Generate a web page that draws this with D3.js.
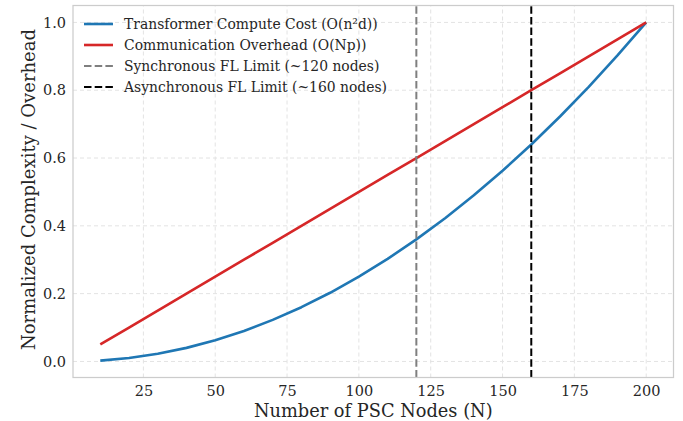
<!DOCTYPE html>
<html>
<head>
<meta charset="utf-8">
<script src="https://cdn.jsdelivr.net/npm/d3@7"></script>
<style>
  body { margin: 0; background: #fff; }
  text { font-family: "DejaVu Serif", serif; fill: #262626; }
</style>
</head>
<body>
<svg id="chart" width="683" height="421"></svg>
<script>
// data
var nodes = [10, 20, 30, 40, 50, 60, 70, 80, 90, 100, 110, 120, 130, 140, 150, 160, 170, 180, 190, 200];
var computeCost = [0.0025, 0.01, 0.0225, 0.04, 0.0625, 0.09, 0.1225, 0.16, 0.2025, 0.25,
                   0.3025, 0.36, 0.4225, 0.49, 0.5625, 0.64, 0.7225, 0.81, 0.9025, 1.0];
var commOverhead = [0.05, 0.1, 0.15, 0.2, 0.25, 0.3, 0.35, 0.4, 0.45, 0.5,
                    0.55, 0.6, 0.65, 0.7, 0.75, 0.8, 0.85, 0.9, 0.95, 1.0];
var limits = [
  { x: 120, label: "Synchronous FL Limit (~120 nodes)", color: "#7f7f7f" },
  { x: 160, label: "Asynchronous FL Limit (~160 nodes)", color: "#000000" }
];
var xTicks = [25, 50, 75, 100, 125, 150, 175, 200];
var yTicks = [0.0, 0.2, 0.4, 0.6, 0.8, 1.0];

var margin = { left: 73, right: 9.5, top: 5.5, bottom: 43.5 };
var W = 683, H = 421;
var svg = d3.select("#chart");

var x = d3.scaleLinear().domain([0.5, 209.5]).range([margin.left, W - margin.right]);
var y = d3.scaleLinear().domain([-0.047375, 1.049875]).range([H - margin.bottom, margin.top]);

//////////////////////////////////
// grid
var grid = svg.append("g").attr("class", "grid");
grid.selectAll("line.gx").data(xTicks).enter().append("line")
  .attr("x1", function(d) { return x(d); }).attr("x2", function(d) { return x(d); })
  .attr("y1", y.range()[0]).attr("y2", y.range()[1])
  .attr("stroke", "#e3e3e3").attr("stroke-width", 1).attr("stroke-dasharray", "4,3");
grid.selectAll("line.gy").data(yTicks).enter().append("line")
  .attr("y1", function(d) { return y(d); }).attr("y2", function(d) { return y(d); })
  .attr("x1", x.range()[0]).attr("x2", x.range()[1])
  .attr("stroke", "#e3e3e3").attr("stroke-width", 1).attr("stroke-dasharray", "4,3");

//////////////////////////////////
// axes (labels only, no tick marks)
var xAxis = svg.append("g")
  .attr("transform", "translate(0," + (H - margin.bottom) + ")")
  .call(d3.axisBottom(x).tickValues(xTicks).tickSize(0).tickPadding(8).tickFormat(d3.format("d")));
var yAxis = svg.append("g")
  .attr("transform", "translate(" + margin.left + ",0)")
  .call(d3.axisLeft(y).tickValues(yTicks).tickSize(0).tickPadding(7).tickFormat(d3.format(".1f")));
[xAxis, yAxis].forEach(function(a) {
  a.select(".domain").remove();
  a.selectAll("text").style("font-family", "DejaVu Serif").style("font-size", "14.5px").attr("fill", "#262626");
});

//////////////////////////////////
// series
var line = d3.line()
  .x(function(d) { return x(d[0]); })
  .y(function(d) { return y(d[1]); });

svg.append("path")
  .datum(d3.zip(nodes, computeCost))
  .attr("d", line)
  .attr("fill", "none").attr("stroke", "#1f77b4").attr("stroke-width", 2.6)
  .attr("stroke-linejoin", "round");
svg.append("path")
  .datum(d3.zip(nodes, commOverhead))
  .attr("d", line)
  .attr("fill", "none").attr("stroke", "#d62728").attr("stroke-width", 2.6)
  .attr("stroke-linejoin", "round");

svg.selectAll("line.limit").data(limits).enter().append("line")
  .attr("class", "limit")
  .attr("x1", function(d) { return x(d.x); }).attr("x2", function(d) { return x(d.x); })
  .attr("y1", y.range()[0]).attr("y2", y.range()[1])
  .attr("stroke", function(d) { return d.color; })
  .attr("stroke-width", 2).attr("stroke-dasharray", "7.5,3.2");

//////////////////////////////////
// frame
svg.append("rect")
  .attr("x", margin.left).attr("y", margin.top)
  .attr("width", W - margin.left - margin.right).attr("height", H - margin.top - margin.bottom)
  .attr("fill", "none").attr("stroke", "#cccccc").attr("stroke-width", 1.25);

//////////////////////////////////
// legend
var legendItems = [
  { label: "Transformer Compute Cost (O(n\u00b2d))", color: "#1f77b4", dash: null, w: 2.6 },
  { label: "Communication Overhead (O(Np))", color: "#d62728", dash: null, w: 2.6 },
  { label: limits[0].label, color: limits[0].color, dash: "7.5,3.2", w: 2 },
  { label: limits[1].label, color: limits[1].color, dash: "7.5,3.2", w: 2 }
];
var legend = svg.append("g").attr("transform", "translate(84,24)");
var rows = legend.selectAll("g").data(legendItems).enter().append("g")
  .attr("transform", function(d, i) { return "translate(0," + (i * 21) + ")"; });
rows.append("line")
  .attr("x1", 0).attr("x2", 29).attr("y1", 0).attr("y2", 0)
  .attr("stroke", function(d) { return d.color; })
  .attr("stroke-width", function(d) { return d.w; })
  .attr("stroke-dasharray", function(d) { return d.dash; });
rows.append("text")
  .attr("x", 40).attr("y", 0).attr("dy", "0.35em")
  .style("font-size", "13.9px")
  .text(function(d) { return d.label; });

//////////////////////////////////
// axis titles
svg.append("text")
  .attr("x", (margin.left + W - margin.right) / 2).attr("y", 417)
  .attr("text-anchor", "middle").style("font-size", "17.8px")
  .text("Number of PSC Nodes (N)");
svg.append("text")
  .attr("transform", "translate(35," + ((margin.top + H - margin.bottom) / 2 - 2) + ") rotate(-90)")
  .attr("text-anchor", "middle").style("font-size", "18px")
  .text("Normalized Complexity / Overhead");
</script>
</body>
</html>
